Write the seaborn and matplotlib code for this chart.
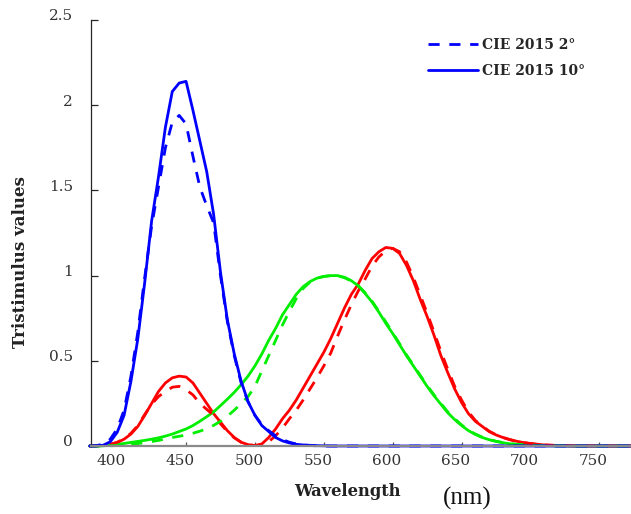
import matplotlib
matplotlib.use("Agg")
import matplotlib.pyplot as plt
from matplotlib.transforms import ScaledTranslation
import seaborn as sns
import pandas as pd

# Wavelength grid (nm)
WAVELENGTH = list(range(380, 705, 5)) + [710, 720, 730, 780]

# CIE 2015 10-degree colour matching functions
X_10 = [0, 0.001, 0.003, 0.01, 0.02, 0.04, 0.07, 0.115, 0.18, 0.25,
        0.32, 0.37, 0.40, 0.41, 0.405, 0.37, 0.31, 0.25, 0.19, 0.14,
        0.09, 0.05, 0.022, 0.008, 0.003, 0.012, 0.05, 0.10, 0.16, 0.21,
        0.27, 0.34, 0.41, 0.48, 0.55, 0.63, 0.72, 0.81, 0.89, 0.95,
        1.03, 1.10, 1.14, 1.165, 1.16, 1.13, 1.06, 0.97, 0.86, 0.76,
        0.65, 0.53, 0.43, 0.335, 0.255, 0.19, 0.145, 0.115, 0.085, 0.065,
        0.05, 0.038, 0.028, 0.02, 0.015, 0.006, 0.003, 0.001, 0]
Y_10 = [0, 0, 0.001, 0.004, 0.008, 0.015, 0.021, 0.027, 0.033, 0.04,
        0.048, 0.058, 0.07, 0.085, 0.1, 0.12, 0.145, 0.172, 0.2, 0.237,
        0.275, 0.315, 0.36, 0.41, 0.47, 0.54, 0.62, 0.69, 0.77, 0.83,
        0.89, 0.935, 0.965, 0.985, 0.995, 1.0, 1.0, 0.99, 0.97, 0.94,
        0.895, 0.845, 0.785, 0.72, 0.66, 0.595, 0.53, 0.47, 0.41, 0.35,
        0.295, 0.245, 0.195, 0.155, 0.12, 0.09, 0.068, 0.05, 0.037, 0.027,
        0.019, 0.013, 0.009, 0.006, 0.004, 0.002, 0.001, 0, 0]
Z_10 = [0, 0, 0.005, 0.025, 0.08, 0.18, 0.38, 0.63, 0.96, 1.32,
        1.58, 1.87, 2.08, 2.13, 2.14, 1.97, 1.79, 1.61, 1.36, 1.02,
        0.74, 0.54, 0.38, 0.26, 0.18, 0.12, 0.085, 0.05, 0.03, 0.018,
        0.01, 0.006, 0.004, 0.002, 0.001, 0, 0, 0, 0, 0,
        0, 0, 0, 0, 0, 0, 0, 0, 0, 0,
        0, 0, 0, 0, 0, 0, 0, 0, 0, 0,
        0, 0, 0, 0, 0, 0, 0, 0, 0]

# CIE 2015 2-degree colour matching functions
X_2 = [0, 0.001, 0.004, 0.01, 0.022, 0.042, 0.075, 0.12, 0.185, 0.245,
       0.29, 0.32, 0.345, 0.35, 0.33, 0.30, 0.25, 0.215, 0.18, 0.13,
       0.085, 0.048, 0.022, 0.008, 0.002, 0.005, 0.025, 0.06, 0.105, 0.16,
       0.21, 0.27, 0.335, 0.40, 0.47, 0.545, 0.645, 0.74, 0.83, 0.91,
       0.98, 1.055, 1.11, 1.145, 1.16, 1.14, 1.08, 0.99, 0.885, 0.78,
       0.67, 0.555, 0.45, 0.35, 0.27, 0.2, 0.15, 0.117, 0.087, 0.066,
       0.05, 0.037, 0.027, 0.02, 0.014, 0.006, 0.003, 0.001, 0]
Y_2 = [0, 0, 0.0005, 0.001, 0.003, 0.005, 0.009, 0.014, 0.02, 0.026,
       0.033, 0.041, 0.05, 0.057, 0.065, 0.075, 0.087, 0.101, 0.121, 0.145,
       0.175, 0.21, 0.25, 0.29, 0.35, 0.44, 0.53, 0.62, 0.71, 0.79,
       0.865, 0.925, 0.962, 0.985, 0.995, 1.0, 0.998, 0.988, 0.968, 0.94,
       0.9, 0.85, 0.79, 0.728, 0.665, 0.6, 0.535, 0.475, 0.415, 0.355,
       0.3, 0.25, 0.2, 0.16, 0.124, 0.093, 0.07, 0.052, 0.038, 0.028,
       0.02, 0.014, 0.01, 0.007, 0.005, 0.002, 0.001, 0, 0]
Z_2 = [0, 0.002, 0.012, 0.04, 0.10, 0.21, 0.41, 0.67, 0.99, 1.29,
       1.52, 1.75, 1.90, 1.94, 1.89, 1.70, 1.52, 1.41, 1.31, 1.00,
       0.73, 0.53, 0.37, 0.26, 0.18, 0.125, 0.09, 0.06, 0.038, 0.022,
       0.012, 0.006, 0.003, 0.001, 0, 0, 0, 0, 0, 0,
       0, 0, 0, 0, 0, 0, 0, 0, 0, 0,
       0, 0, 0, 0, 0, 0, 0, 0, 0, 0,
       0, 0, 0, 0, 0, 0, 0, 0, 0]

LEGEND_LABELS = ["CIE 2015 2\u00b0", "CIE 2015 10\u00b0"]
XTICKS = [400, 450, 500, 550, 600, 650, 700, 750]
YTICKS = [0, 0.5, 1, 1.5, 2, 2.5]
YTICK_LABELS = ["0", "0.5", "1", "1.5", "2", "2.5"]

RED, GREEN, BLUE = "#ff0000", "#00ee00", "#0000ff"

sns.set_style("ticks")
plt.rcParams["font.family"] = ["DejaVu Serif"]

W, H = 631, 514
fig = plt.figure(figsize=(W / 100, H / 100), dpi=100)
ax = fig.add_axes([91 / W, (H - 446) / H, (W - 91) / W, (446 - 20) / H])

df = pd.DataFrame({"wl": WAVELENGTH,
                   "x10": X_10, "y10": Y_10, "z10": Z_10,
                   "x2": X_2, "y2": Y_2, "z2": Z_2})

lw = 2.0
dash = (0, (4, 3.5))
sns.lineplot(data=df, x="wl", y="x10", color=RED, lw=lw, ax=ax, clip_on=False)
sns.lineplot(data=df, x="wl", y="y10", color=GREEN, lw=lw, ax=ax, clip_on=False)
sns.lineplot(data=df, x="wl", y="x2", color=RED, lw=lw, ls=dash, ax=ax, clip_on=False)
sns.lineplot(data=df, x="wl", y="y2", color=GREEN, lw=lw, ls=dash, ax=ax, clip_on=False)
sns.lineplot(data=df, x="wl", y="z2", color=BLUE, lw=lw, ls=dash, ax=ax, clip_on=False)
sns.lineplot(data=df, x="wl", y="z10", color=BLUE, lw=lw, ax=ax, clip_on=False)

lines = ax.get_lines()
ax.legend(handles=[lines[4], lines[5]], labels=LEGEND_LABELS, frameon=False,
          loc="upper left", bbox_to_anchor=((428 - 91) / 540, 1 - (38 - 20) / 426),
          borderaxespad=0, borderpad=0, handlelength=3.6, handletextpad=0.28,
          labelspacing=0.86, prop={"family": "DejaVu Serif", "weight": "bold", "size": 10})

ax.set_xlim(381, 773)
ax.set_ylim(0, 2.5)
ax.set_xticks(XTICKS)
ax.set_xticklabels([str(t) for t in XTICKS])
ax.set_yticks(YTICKS)
ax.set_yticklabels(YTICK_LABELS)

for s in ("top", "right"):
    ax.spines[s].set_visible(False)
ax.spines["left"].set_color("#262626")
ax.spines["left"].set_linewidth(0.9)
ax.spines["bottom"].set_color("#8a8a8a")
ax.spines["bottom"].set_linewidth(1.6)

ax.tick_params(axis="y", direction="in", length=5, width=0.9, color="#262626",
               labelsize=11, labelcolor="#333333", pad=13)
ax.tick_params(axis="x", direction="in", length=3, width=0.9, color="#555555",
               labelsize=11, labelcolor="#333333", pad=6)

for lab in ax.get_yticklabels():
    lab.set_transform(lab.get_transform() + ScaledTranslation(0, 0.05, fig.dpi_scale_trans))
for lab in ax.get_xticklabels():
    lab.set_transform(lab.get_transform() + ScaledTranslation(-0.06, 0, fig.dpi_scale_trans))

ax.set_ylabel("Tristimulus values", fontsize=12, fontweight="bold", va="center", color="#222222")
ax.yaxis.set_label_coords((20.5 - 91) / 540, (446 - 262) / 426)
ax.set_xlabel("Wavelength", fontsize=11.8, fontweight="bold", va="center", color="#222222")
ax.xaxis.set_label_coords((347 - 91) / 540, (446 - 491) / 426)
ax.text((467 - 91) / 540, (446 - 498) / 426, "(nm)", transform=ax.transAxes,
        ha="center", va="center", fontsize=18, family="Liberation Serif", color="#111111")

fig.savefig("out.png", dpi=100)
